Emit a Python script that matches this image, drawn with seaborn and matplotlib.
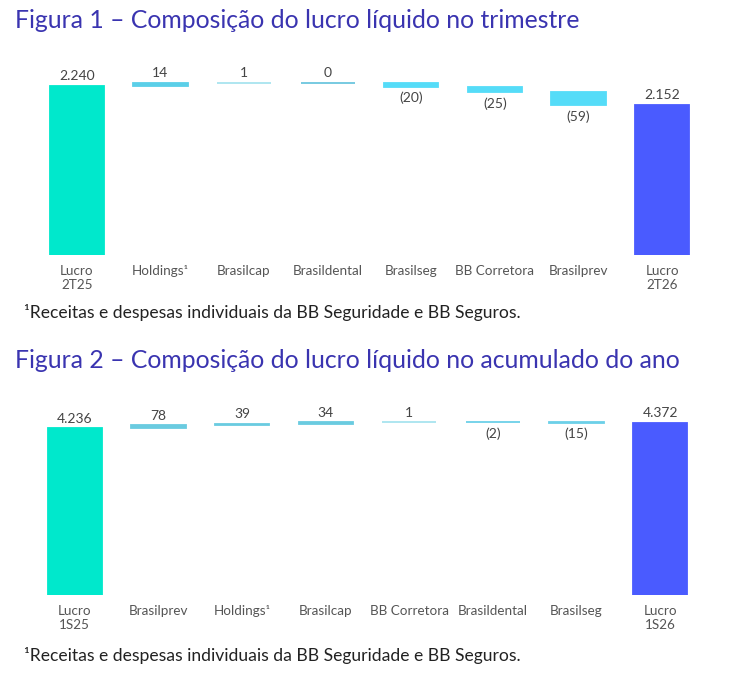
import matplotlib
matplotlib.use("Agg")
import matplotlib.pyplot as plt
import seaborn as sns

# ---- data
cats_tri = ["Lucro\n2T25", "Holdings¹", "Brasilcap", "Brasildental", "Brasilseg",
            "BB Corretora", "Brasilprev", "Lucro\n2T26"]
vals_tri = [2240, 14, 1, 0, -20, -25, -59, 2152]

cats_ano = ["Lucro\n1S25", "Brasilprev", "Holdings¹", "Brasilcap", "BB Corretora",
            "Brasildental", "Brasilseg", "Lucro\n1S26"]
vals_ano = [4236, 78, 39, 34, 1, -2, -15, 4372]

titulo_1 = "Figura 1 – Composição do lucro líquido no trimestre"
titulo_2 = "Figura 2 – Composição do lucro líquido no acumulado do ano"
nota = "¹Receitas e despesas individuais da BB Seguridade e BB Seguros."

cores_tri = ["#00e8cc", "#5bcfe8", "#a8e4ef", "#6cc6de", "#55dcf8", "#55dcf8", "#55dcf8", "#4a5bff"]
cores_ano = ["#00e8cc", "#6acbe0", "#6acbe0", "#6acbe0", "#a8e4ef", "#6cd0e8", "#6cd0e8", "#4a5bff"]

sns.set_style("white")
plt.rcParams["font.family"] = ["Lato", "DejaVu Sans"]

TITLE_COLOR = "#3a34b0"
VAL_COLOR = "#444444"
TICK_COLOR = "#555555"


def fmt(v):
    s = f"{abs(v):,}".replace(",", ".")
    return f"({s})" if v < 0 else s


def waterfall(ax, cats, vals, cores, ylim):
    # first and last are totals, the rest are steps
    bottoms, heights = [], []
    run = 0
    for i, v in enumerate(vals):
        if i == 0 or i == len(vals) - 1:
            bottoms.append(0)
            heights.append(v)
            run = v
        else:
            bottoms.append(run)
            heights.append(v)
            run += v
    sns.barplot(x=cats, y=heights, bottom=bottoms, order=cats, width=0.65,
                color=cores[0], ax=ax)
    for p, c in zip(ax.patches, cores):
        p.set_facecolor(c)
        p.set_edgecolor(c)
        p.set_linewidth(1.3)
    ax.set_ylim(*ylim)
    ax.set_xlim(-0.5, len(cats) - 0.5)
    for i, (b, h, v) in enumerate(zip(bottoms, heights, vals)):
        top = max(b, b + h)
        low = min(b, b + h)
        if v >= 0:
            ax.annotate(fmt(v), (i, top), xytext=(0, 2.5), textcoords="offset points",
                        ha="center", va="bottom", fontsize=10, color=VAL_COLOR)
        else:
            ax.annotate(fmt(v), (i, low), xytext=(0, -3.5), textcoords="offset points",
                        ha="center", va="top", fontsize=10, color=VAL_COLOR)
    sns.despine(ax=ax, left=True, bottom=True)
    ax.set_yticks([])
    ax.set_xlabel("")
    ax.set_ylabel("")
    ax.tick_params(axis="x", length=0, pad=7, labelsize=9.7, labelcolor=TICK_COLOR)


W, H = 732, 677
fig = plt.figure(figsize=(W / 100, H / 100), dpi=100)

ax1 = fig.add_axes([35 / W, 1 - 255 / H, 669 / W, 195 / H])
waterfall(ax1, cats_tri, vals_tri, cores_tri, (1457, 2360))

ax2 = fig.add_axes([33 / W, 1 - 595 / H, 669 / W, 195 / H])
waterfall(ax2, cats_ano, vals_ano, cores_ano, (0, 4952))

fig.text(15 / W, 1 - 21 / H, titulo_1, fontsize=17.8, color=TITLE_COLOR, va="center")
fig.text(15 / W, 1 - 361 / H, titulo_2, fontsize=17.8, color=TITLE_COLOR, va="center")
fig.text(24 / W, 1 - 313 / H, nota, fontsize=12.6, color="#222222", va="center")
fig.text(24 / W, 1 - 656 / H, nota, fontsize=12.6, color="#222222", va="center")

fig.savefig("out.png", dpi=100)
